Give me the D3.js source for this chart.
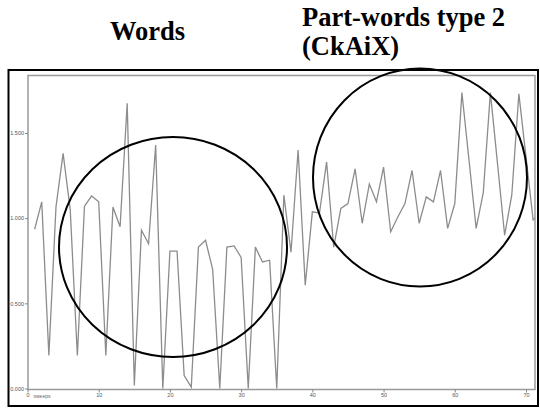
<!DOCTYPE html>
<html><head><meta charset="utf-8">
<script src="https://cdn.jsdelivr.net/npm/d3@7"></script>
<style>body{margin:0;background:#fff}svg{display:block}</style>
</head><body>
<script>
const sweeps = d3.range(1, 73);
const values = [0.935,1.096,0.194,1.066,1.38,1.05,0.194,1.07,1.13,1.096,
  0.194,1.066,0.95,1.675,0.018,0.93,0.85,1.43,0.0,0.807,
  0.807,0.076,0.008,0.83,0.87,0.70,0.0,0.83,0.837,0.77,
  0.0,0.83,0.743,0.753,0.0,1.135,0.80,1.40,0.606,1.037,
  1.03,1.33,0.83,1.057,1.086,1.29,0.97,1.20,1.096,1.30,
  0.92,1.007,1.086,1.28,0.97,1.125,1.096,1.28,0.94,1.086,
  1.737,1.34,0.94,1.15,1.737,1.32,0.90,1.135,1.73,1.36,
  0.99,1.03];
const yTicks = [0, 0.5, 1.0, 1.5];
const yTickLabels = ["0.000","0.500","1.000","1.500"];
const xTicks = [0,10,20,30,40,50,60,70];
const titles = ["Words","Part-words type 2","(CkAiX)"];

const W = 540, H = 408;
const svg = d3.select("body").append("svg").attr("width", W).attr("height", H);
const x = d3.scaleLinear().domain([0,70]).range([27.5,526]);
const y = d3.scaleLinear().domain([0,1.5]).range([388.5,133]);

// outer frame
svg.append("rect").attr("x",8.5).attr("y",70).attr("width",529.5).attr("height",336)
  .attr("fill","none").attr("stroke","#000").attr("stroke-width",2);
// inner plot frame
svg.append("rect").attr("x",28).attr("y",75.5).attr("width",507).attr("height",314)
  .attr("fill","none").attr("stroke","#999").attr("stroke-width",1.5);

svg.append("clipPath").attr("id","clip").append("rect")
  .attr("x",28).attr("y",75.5).attr("width",507).attr("height",314);

// axes
const yAxis = d3.axisLeft(y).tickValues(yTicks).tickFormat((d,i)=>yTickLabels[i]).tickSize(3).tickPadding(1);
const gy = svg.append("g").attr("transform","translate(28,0)").call(yAxis);
gy.select(".domain").remove();
gy.selectAll("line").attr("stroke","#888");
gy.selectAll("text").attr("font-family","Liberation Sans, Arial").attr("font-size",5.5).attr("fill","#555");

const xAxis = d3.axisBottom(x).tickValues(xTicks).tickSize(3).tickPadding(1).tickFormat(d3.format("d"));
const gx = svg.append("g").attr("transform","translate(0,389.5)").call(xAxis);
gx.select(".domain").remove();
gx.selectAll("line").attr("stroke","#888");
gx.selectAll("text").attr("font-family","Liberation Sans, Arial").attr("font-size",5.5).attr("fill","#555");
svg.append("text").attr("x",x(0)+6).attr("y",397.5).text("sweeps")
  .attr("font-family","Liberation Sans, Arial").attr("font-size",5).attr("fill","#666");

// data line
const line = d3.line().x((d,i)=>x(sweeps[i])).y(d=>y(d));
svg.append("path").datum(values).attr("d",line).attr("clip-path","url(#clip)")
  .attr("fill","none").attr("stroke","#8c8c8c").attr("stroke-width",1.3)
  .attr("stroke-linejoin","miter");

// circles
svg.append("ellipse").attr("cx",173).attr("cy",247).attr("rx",114).attr("ry",110)
  .attr("fill","none").attr("stroke","#000").attr("stroke-width",2);
svg.append("ellipse").attr("cx",420).attr("cy",177.5).attr("rx",107).attr("ry",109)
  .attr("fill","none").attr("stroke","#000").attr("stroke-width",2);

// titles
const tf = "Liberation Serif, Times New Roman, serif";
svg.append("text").attr("x",110).attr("y",40).text(titles[0])
  .attr("font-family",tf).attr("font-weight","bold").attr("font-size",26.5);
svg.append("text").attr("x",302).attr("y",26).text(titles[1])
  .attr("font-family",tf).attr("font-weight","bold").attr("font-size",26.5);
svg.append("text").attr("x",302).attr("y",55).text(titles[2])
  .attr("font-family",tf).attr("font-weight","bold").attr("font-size",26.5);
</script>
</body></html>
